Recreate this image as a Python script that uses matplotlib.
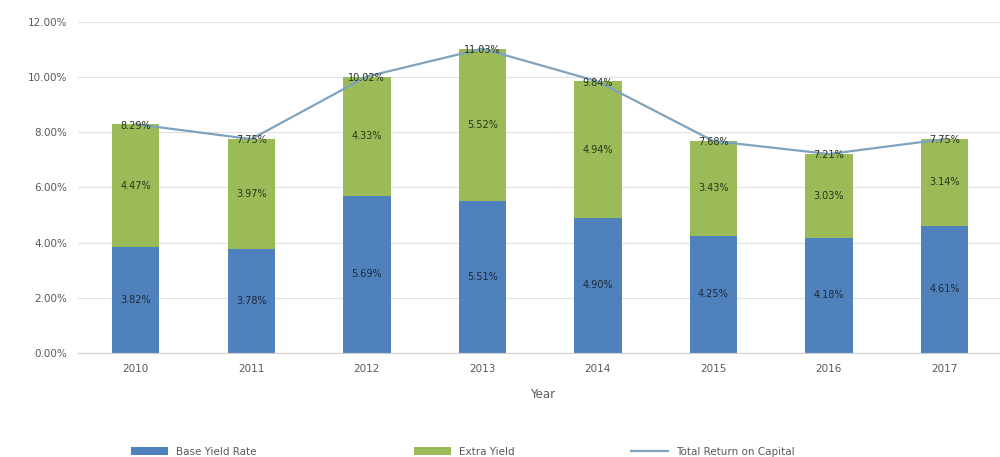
import matplotlib
matplotlib.use('Agg')
import matplotlib.pyplot as plt
from matplotlib.ticker import FuncFormatter
import numpy as np

years = ['2010', '2011', '2012', '2013', '2014', '2015', '2016', '2017']
base_rate = [3.82, 3.78, 5.69, 5.51, 4.90, 4.25, 4.18, 4.61]
extra_rate = [4.47, 3.97, 4.33, 5.52, 4.94, 3.43, 3.03, 3.14]
total_rate = [8.29, 7.75, 10.02, 11.03, 9.84, 7.68, 7.21, 7.75]

c_blue = '#4F81BD'
c_green = '#9BBB59'
c_line = '#7FA3BE'

fig = plt.figure(figsize=(10, 4.57), dpi=100)
ax = fig.add_axes([0.078, 0.228, 0.93, 0.724])

x = np.arange(len(years))
w = 0.41
b1 = ax.bar(x, base_rate, w, color=c_blue, label='Base Yield Rate', zorder=2)
b2 = ax.bar(x, extra_rate, w, bottom=base_rate, color=c_green, label='Extra Yield', zorder=2)
l1, = ax.plot(x, total_rate, color=c_line, lw=1.6, label='Total Return on Capital', zorder=3)

for i in range(len(years)):
    ax.text(x[i], base_rate[i] / 2, f'{base_rate[i]:.2f}%', ha='center', va='center',
            fontsize=7, color='#1f2a38', zorder=4)
    ax.text(x[i], base_rate[i] + extra_rate[i] / 2, f'{extra_rate[i]:.2f}%', ha='center',
            va='center', fontsize=7, color='#2a3418', zorder=4)
    ax.text(x[i], total_rate[i] - 0.05, f'{total_rate[i]:.2f}%', ha='center', va='center',
            fontsize=7, color='#2a3418', zorder=4)

ax.set_ylim(0, 12)
ax.set_yticks(np.arange(0, 12.1, 2))
ax.yaxis.set_major_formatter(FuncFormatter(lambda v, p: f'{v:.2f}%'))
ax.set_xlim(-0.5, len(years) - 0.45)
ax.set_xticks(x)
ax.set_xticklabels(years)
ax.grid(axis='y', color='#e3e3e3', lw=0.9, zorder=0)
for s in ['top', 'right', 'left']:
    ax.spines[s].set_visible(False)
ax.spines['bottom'].set_color('#d0d0d0')
ax.tick_params(axis='both', length=0, labelsize=7.5, colors='#595959', pad=8)
ax.set_xlabel('Year', fontsize=8.5, color='#595959', labelpad=10)

# legend entries placed individually to follow the reference spacing
for h, xpos in [(b1, 0.122), (b2, 0.405), (l1, 0.622)]:
    fig.legend(handles=[h], loc='lower left', bbox_to_anchor=(xpos, -0.02),
               frameon=False, fontsize=7.5, handlelength=3.5, labelcolor='#595959')

plt.savefig('out.png', dpi=100)
